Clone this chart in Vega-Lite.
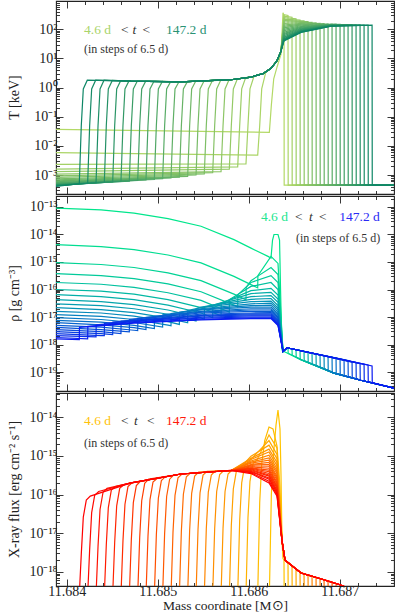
{
"$schema":"https://vega.github.io/schema/vega-lite/v6.json",
"background":"white",
"padding":{"left":6,"top":0,"right":1,"bottom":0},
"spacing":0,
"resolve":{"scale":{"color":"independent"}},
"config":{"font":"Liberation Serif","view":{"stroke":"#222222","strokeWidth":1.1},
"axis":{"domain":false,"grid":false,"tickColor":"#222222","tickWidth":0.9,"labelFont":"Liberation Serif","labelFontSize":14,"labelColor":"#222222","titleFont":"Liberation Serif","titleFontSize":14,"titleFontWeight":"normal","titleColor":"#222222","labelOverlap":false,"labelFlush":false,"labelBound":false}},
"datasets":{
"T":[
{"t":4.6,"x":11.683882,"y":0.037},{"t":4.6,"x":11.686227,"y":0.029},{"t":4.6,"x":11.686249,"y":0.25},{"t":4.6,"x":11.686275,"y":2},{"t":4.6,"x":11.686311,"y":5},{"t":4.6,"x":11.686355,"y":14},{"t":4.6,"x":11.686377,"y":372},{"t":4.6,"x":11.686388,"y":300},{"t":4.6,"x":11.68639,"y":0.00045},{"t":4.6,"x":11.687619,"y":0.00045},
{"t":11.1,"x":11.683882,"y":0.0059},{"t":11.1,"x":11.686099,"y":0.0048},{"t":11.1,"x":11.686121,"y":0.05},{"t":11.1,"x":11.686143,"y":0.9},{"t":11.1,"x":11.686187,"y":3.3},{"t":11.1,"x":11.686245,"y":4.6},{"t":11.1,"x":11.686311,"y":8.3},{"t":11.1,"x":11.686355,"y":17.8},{"t":11.1,"x":11.686388,"y":316},{"t":11.1,"x":11.686432,"y":299},{"t":11.1,"x":11.686434,"y":0.00045},{"t":11.1,"x":11.687619,"y":0.00045},
{"t":17.6,"x":11.683882,"y":0.0023},{"t":17.6,"x":11.68597,"y":0.0024},{"t":17.6,"x":11.685992,"y":0.05},{"t":17.6,"x":11.686014,"y":0.9},{"t":17.6,"x":11.686058,"y":2.45},{"t":17.6,"x":11.686157,"y":3},{"t":17.6,"x":11.686245,"y":4.6},{"t":17.6,"x":11.686311,"y":8.3},{"t":17.6,"x":11.686355,"y":17.8},{"t":17.6,"x":11.686388,"y":282},{"t":17.6,"x":11.686476,"y":259},{"t":17.6,"x":11.686478,"y":0.00045},{"t":17.6,"x":11.687619,"y":0.00045},
{"t":24.0,"x":11.683882,"y":0.0016},{"t":24.0,"x":11.685879,"y":0.0019},{"t":24.0,"x":11.685901,"y":0.05},{"t":24.0,"x":11.685923,"y":0.9},{"t":24.0,"x":11.685967,"y":2.2},{"t":24.0,"x":11.686025,"y":2.3},{"t":24.0,"x":11.686157,"y":3},{"t":24.0,"x":11.686245,"y":4.6},{"t":24.0,"x":11.686311,"y":8.3},{"t":24.0,"x":11.686355,"y":17.8},{"t":24.0,"x":11.686388,"y":251},{"t":24.0,"x":11.68652,"y":230},{"t":24.0,"x":11.686522,"y":0.00045},{"t":24.0,"x":11.687619,"y":0.00045},
{"t":30.5,"x":11.683882,"y":0.0013},{"t":30.5,"x":11.685787,"y":0.0016},{"t":30.5,"x":11.685809,"y":0.05},{"t":30.5,"x":11.685831,"y":0.9},{"t":30.5,"x":11.685875,"y":1.97},{"t":30.5,"x":11.686025,"y":2.3},{"t":30.5,"x":11.686157,"y":3},{"t":30.5,"x":11.686245,"y":4.6},{"t":30.5,"x":11.686311,"y":8.3},{"t":30.5,"x":11.686355,"y":17.8},{"t":30.5,"x":11.686388,"y":224},{"t":30.5,"x":11.686564,"y":209},{"t":30.5,"x":11.686566,"y":0.00045},{"t":30.5,"x":11.687619,"y":0.00045},
{"t":37.0,"x":11.683882,"y":0.00107},{"t":37.0,"x":11.685696,"y":0.0013},{"t":37.0,"x":11.685718,"y":0.05},{"t":37.0,"x":11.68574,"y":0.9},{"t":37.0,"x":11.685784,"y":1.84},{"t":37.0,"x":11.685806,"y":1.86},{"t":37.0,"x":11.686025,"y":2.3},{"t":37.0,"x":11.686157,"y":3},{"t":37.0,"x":11.686245,"y":4.6},{"t":37.0,"x":11.686311,"y":8.3},{"t":37.0,"x":11.686355,"y":17.8},{"t":37.0,"x":11.686388,"y":200},{"t":37.0,"x":11.686575,"y":195},{"t":37.0,"x":11.686608,"y":194},{"t":37.0,"x":11.68661,"y":0.00045},{"t":37.0,"x":11.687619,"y":0.00045},
{"t":43.5,"x":11.683882,"y":0.00093},{"t":43.5,"x":11.685604,"y":0.0012},{"t":43.5,"x":11.685626,"y":0.05},{"t":43.5,"x":11.685648,"y":0.9},{"t":43.5,"x":11.685692,"y":1.78},{"t":43.5,"x":11.685806,"y":1.86},{"t":43.5,"x":11.686025,"y":2.3},{"t":43.5,"x":11.686157,"y":3},{"t":43.5,"x":11.686245,"y":4.6},{"t":43.5,"x":11.686311,"y":8.3},{"t":43.5,"x":11.686355,"y":17.8},{"t":43.5,"x":11.686388,"y":178},{"t":43.5,"x":11.686575,"y":183},{"t":43.5,"x":11.686652,"y":183},{"t":43.5,"x":11.686654,"y":0.00045},{"t":43.5,"x":11.687619,"y":0.00045},
{"t":49.9,"x":11.683882,"y":0.00083},{"t":49.9,"x":11.685512,"y":0.0011},{"t":49.9,"x":11.685534,"y":0.05},{"t":49.9,"x":11.685556,"y":0.9},{"t":49.9,"x":11.6856,"y":1.72},{"t":49.9,"x":11.685806,"y":1.86},{"t":49.9,"x":11.686025,"y":2.3},{"t":49.9,"x":11.686157,"y":3},{"t":49.9,"x":11.686245,"y":4.6},{"t":49.9,"x":11.686311,"y":8.3},{"t":49.9,"x":11.686355,"y":17.8},{"t":49.9,"x":11.686388,"y":158},{"t":49.9,"x":11.686575,"y":171},{"t":49.9,"x":11.686696,"y":174},{"t":49.9,"x":11.686698,"y":0.00045},{"t":49.9,"x":11.687619,"y":0.00045},
{"t":56.4,"x":11.683882,"y":0.00074},{"t":56.4,"x":11.685421,"y":0.001},{"t":56.4,"x":11.685443,"y":0.05},{"t":56.4,"x":11.685465,"y":0.9},{"t":56.4,"x":11.685509,"y":1.68},{"t":56.4,"x":11.685806,"y":1.86},{"t":56.4,"x":11.686025,"y":2.3},{"t":56.4,"x":11.686157,"y":3},{"t":56.4,"x":11.686245,"y":4.6},{"t":56.4,"x":11.686311,"y":8.3},{"t":56.4,"x":11.686355,"y":17.8},{"t":56.4,"x":11.686388,"y":141},{"t":56.4,"x":11.686575,"y":160},{"t":56.4,"x":11.68674,"y":167},{"t":56.4,"x":11.686742,"y":0.00045},{"t":56.4,"x":11.687619,"y":0.00045},
{"t":62.9,"x":11.683882,"y":0.00068},{"t":62.9,"x":11.685329,"y":0.0009},{"t":62.9,"x":11.685351,"y":0.05},{"t":62.9,"x":11.685373,"y":0.9},{"t":62.9,"x":11.685417,"y":1.65},{"t":62.9,"x":11.685806,"y":1.86},{"t":62.9,"x":11.686025,"y":2.3},{"t":62.9,"x":11.686157,"y":3},{"t":62.9,"x":11.686245,"y":4.6},{"t":62.9,"x":11.686311,"y":8.3},{"t":62.9,"x":11.686355,"y":17.8},{"t":62.9,"x":11.686388,"y":126},{"t":62.9,"x":11.686575,"y":150},{"t":62.9,"x":11.686784,"y":161},{"t":62.9,"x":11.686786,"y":0.00045},{"t":62.9,"x":11.687619,"y":0.00045},
{"t":69.4,"x":11.683882,"y":0.00063},{"t":69.4,"x":11.685238,"y":0.00085},{"t":69.4,"x":11.68526,"y":0.05},{"t":69.4,"x":11.685282,"y":0.9},{"t":69.4,"x":11.685326,"y":1.6},{"t":69.4,"x":11.685806,"y":1.86},{"t":69.4,"x":11.686025,"y":2.3},{"t":69.4,"x":11.686157,"y":3},{"t":69.4,"x":11.686245,"y":4.6},{"t":69.4,"x":11.686311,"y":8.3},{"t":69.4,"x":11.686355,"y":17.8},{"t":69.4,"x":11.686388,"y":112},{"t":69.4,"x":11.686575,"y":141},{"t":69.4,"x":11.686828,"y":157},{"t":69.4,"x":11.68683,"y":0.00045},{"t":69.4,"x":11.687619,"y":0.00045},
{"t":75.9,"x":11.683882,"y":0.00059},{"t":75.9,"x":11.685146,"y":0.0008},{"t":75.9,"x":11.685168,"y":0.05},{"t":75.9,"x":11.68519,"y":0.9},{"t":75.9,"x":11.685234,"y":1.58},{"t":75.9,"x":11.685256,"y":1.58},{"t":75.9,"x":11.685806,"y":1.86},{"t":75.9,"x":11.686025,"y":2.3},{"t":75.9,"x":11.686157,"y":3},{"t":75.9,"x":11.686245,"y":4.6},{"t":75.9,"x":11.686311,"y":8.3},{"t":75.9,"x":11.686355,"y":17.8},{"t":75.9,"x":11.686388,"y":100},{"t":75.9,"x":11.686575,"y":132},{"t":75.9,"x":11.686872,"y":154},{"t":75.9,"x":11.686874,"y":0.00045},{"t":75.9,"x":11.687619,"y":0.00045},
{"t":82.4,"x":11.683882,"y":0.00056},{"t":82.4,"x":11.685054,"y":0.00075},{"t":82.4,"x":11.685076,"y":0.05},{"t":82.4,"x":11.685098,"y":0.9},{"t":82.4,"x":11.685142,"y":1.6},{"t":82.4,"x":11.685256,"y":1.58},{"t":82.4,"x":11.685806,"y":1.86},{"t":82.4,"x":11.686025,"y":2.3},{"t":82.4,"x":11.686157,"y":3},{"t":82.4,"x":11.686245,"y":4.6},{"t":82.4,"x":11.686311,"y":8.3},{"t":82.4,"x":11.686355,"y":17.8},{"t":82.4,"x":11.686388,"y":89},{"t":82.4,"x":11.686575,"y":123},{"t":82.4,"x":11.686916,"y":151},{"t":82.4,"x":11.686918,"y":0.00045},{"t":82.4,"x":11.687619,"y":0.00045},
{"t":88.8,"x":11.683882,"y":0.00054},{"t":88.8,"x":11.684963,"y":0.0007},{"t":88.8,"x":11.684985,"y":0.05},{"t":88.8,"x":11.685007,"y":0.9},{"t":88.8,"x":11.685051,"y":1.62},{"t":88.8,"x":11.685256,"y":1.58},{"t":88.8,"x":11.685806,"y":1.86},{"t":88.8,"x":11.686025,"y":2.3},{"t":88.8,"x":11.686157,"y":3},{"t":88.8,"x":11.686245,"y":4.6},{"t":88.8,"x":11.686311,"y":8.3},{"t":88.8,"x":11.686355,"y":17.8},{"t":88.8,"x":11.686388,"y":79},{"t":88.8,"x":11.686575,"y":116},{"t":88.8,"x":11.686905,"y":147},{"t":88.8,"x":11.68696,"y":149},{"t":88.8,"x":11.686962,"y":0.00045},{"t":88.8,"x":11.687619,"y":0.00045},
{"t":95.3,"x":11.683882,"y":0.00051},{"t":95.3,"x":11.684871,"y":0.00068},{"t":95.3,"x":11.684893,"y":0.05},{"t":95.3,"x":11.684915,"y":0.9},{"t":95.3,"x":11.684959,"y":1.64},{"t":95.3,"x":11.685256,"y":1.58},{"t":95.3,"x":11.685806,"y":1.86},{"t":95.3,"x":11.686025,"y":2.3},{"t":95.3,"x":11.686157,"y":3},{"t":95.3,"x":11.686245,"y":4.6},{"t":95.3,"x":11.686311,"y":8.3},{"t":95.3,"x":11.686355,"y":17.8},{"t":95.3,"x":11.686388,"y":72},{"t":95.3,"x":11.686575,"y":110},{"t":95.3,"x":11.686905,"y":144},{"t":95.3,"x":11.687004,"y":147},{"t":95.3,"x":11.687006,"y":0.00045},{"t":95.3,"x":11.687619,"y":0.00045},
{"t":101.8,"x":11.683882,"y":0.00049},{"t":101.8,"x":11.68478,"y":0.00065},{"t":101.8,"x":11.684802,"y":0.05},{"t":101.8,"x":11.684824,"y":0.9},{"t":101.8,"x":11.684868,"y":1.66},{"t":101.8,"x":11.685256,"y":1.58},{"t":101.8,"x":11.685806,"y":1.86},{"t":101.8,"x":11.686025,"y":2.3},{"t":101.8,"x":11.686157,"y":3},{"t":101.8,"x":11.686245,"y":4.6},{"t":101.8,"x":11.686311,"y":8.3},{"t":101.8,"x":11.686355,"y":17.8},{"t":101.8,"x":11.686388,"y":66},{"t":101.8,"x":11.686575,"y":104},{"t":101.8,"x":11.686905,"y":142},{"t":101.8,"x":11.687048,"y":146},{"t":101.8,"x":11.68705,"y":0.00045},{"t":101.8,"x":11.687619,"y":0.00045},
{"t":108.3,"x":11.683882,"y":0.00047},{"t":108.3,"x":11.684688,"y":0.00062},{"t":108.3,"x":11.68471,"y":0.05},{"t":108.3,"x":11.684732,"y":0.9},{"t":108.3,"x":11.684776,"y":1.68},{"t":108.3,"x":11.685256,"y":1.58},{"t":108.3,"x":11.685806,"y":1.86},{"t":108.3,"x":11.686025,"y":2.3},{"t":108.3,"x":11.686157,"y":3},{"t":108.3,"x":11.686245,"y":4.6},{"t":108.3,"x":11.686311,"y":8.3},{"t":108.3,"x":11.686355,"y":17.8},{"t":108.3,"x":11.686388,"y":60},{"t":108.3,"x":11.686575,"y":99},{"t":108.3,"x":11.686905,"y":139},{"t":108.3,"x":11.687092,"y":145},{"t":108.3,"x":11.687094,"y":0.00045},{"t":108.3,"x":11.687619,"y":0.00045},
{"t":114.8,"x":11.683882,"y":0.00046},{"t":114.8,"x":11.684596,"y":0.0006},{"t":114.8,"x":11.684618,"y":0.05},{"t":114.8,"x":11.68464,"y":0.9},{"t":114.8,"x":11.684684,"y":1.7},{"t":114.8,"x":11.684707,"y":1.66},{"t":114.8,"x":11.685256,"y":1.58},{"t":114.8,"x":11.685806,"y":1.86},{"t":114.8,"x":11.686025,"y":2.3},{"t":114.8,"x":11.686157,"y":3},{"t":114.8,"x":11.686245,"y":4.6},{"t":114.8,"x":11.686311,"y":8.3},{"t":114.8,"x":11.686355,"y":17.8},{"t":114.8,"x":11.686388,"y":55},{"t":114.8,"x":11.686575,"y":94},{"t":114.8,"x":11.686905,"y":136},{"t":114.8,"x":11.687136,"y":144},{"t":114.8,"x":11.687138,"y":0.00045},{"t":114.8,"x":11.687619,"y":0.00045},
{"t":121.2,"x":11.683882,"y":0.00045},{"t":121.2,"x":11.684505,"y":0.00058},{"t":121.2,"x":11.684527,"y":0.05},{"t":121.2,"x":11.684549,"y":0.9},{"t":121.2,"x":11.684593,"y":1.73},{"t":121.2,"x":11.684707,"y":1.66},{"t":121.2,"x":11.685256,"y":1.58},{"t":121.2,"x":11.685806,"y":1.86},{"t":121.2,"x":11.686025,"y":2.3},{"t":121.2,"x":11.686157,"y":3},{"t":121.2,"x":11.686245,"y":4.6},{"t":121.2,"x":11.686311,"y":8.3},{"t":121.2,"x":11.686355,"y":17.8},{"t":121.2,"x":11.686388,"y":51},{"t":121.2,"x":11.686575,"y":90},{"t":121.2,"x":11.686905,"y":134},{"t":121.2,"x":11.68718,"y":142},{"t":121.2,"x":11.687182,"y":0.00045},{"t":121.2,"x":11.687619,"y":0.00045},
{"t":127.7,"x":11.683882,"y":0.00044},{"t":127.7,"x":11.684413,"y":0.00056},{"t":127.7,"x":11.684435,"y":0.05},{"t":127.7,"x":11.684457,"y":0.9},{"t":127.7,"x":11.684501,"y":1.76},{"t":127.7,"x":11.684707,"y":1.66},{"t":127.7,"x":11.685256,"y":1.58},{"t":127.7,"x":11.685806,"y":1.86},{"t":127.7,"x":11.686025,"y":2.3},{"t":127.7,"x":11.686157,"y":3},{"t":127.7,"x":11.686245,"y":4.6},{"t":127.7,"x":11.686311,"y":8.3},{"t":127.7,"x":11.686355,"y":17.8},{"t":127.7,"x":11.686388,"y":48},{"t":127.7,"x":11.686575,"y":86},{"t":127.7,"x":11.686905,"y":132},{"t":127.7,"x":11.687224,"y":141},{"t":127.7,"x":11.687226,"y":0.00045},{"t":127.7,"x":11.687619,"y":0.00045},
{"t":134.2,"x":11.683882,"y":0.00043},{"t":134.2,"x":11.684322,"y":0.00054},{"t":134.2,"x":11.684344,"y":0.05},{"t":134.2,"x":11.684366,"y":0.9},{"t":134.2,"x":11.68441,"y":1.8},{"t":134.2,"x":11.684707,"y":1.66},{"t":134.2,"x":11.685256,"y":1.58},{"t":134.2,"x":11.685806,"y":1.86},{"t":134.2,"x":11.686025,"y":2.3},{"t":134.2,"x":11.686157,"y":3},{"t":134.2,"x":11.686245,"y":4.6},{"t":134.2,"x":11.686311,"y":8.3},{"t":134.2,"x":11.686355,"y":17.8},{"t":134.2,"x":11.686388,"y":45},{"t":134.2,"x":11.686575,"y":83},{"t":134.2,"x":11.686905,"y":130},{"t":134.2,"x":11.687268,"y":140},{"t":134.2,"x":11.68727,"y":0.00045},{"t":134.2,"x":11.687619,"y":0.00045},
{"t":140.7,"x":11.683882,"y":0.00042},{"t":140.7,"x":11.68423,"y":0.00052},{"t":140.7,"x":11.684252,"y":0.05},{"t":140.7,"x":11.684274,"y":0.9},{"t":140.7,"x":11.684318,"y":1.8},{"t":140.7,"x":11.684707,"y":1.66},{"t":140.7,"x":11.685256,"y":1.58},{"t":140.7,"x":11.685806,"y":1.86},{"t":140.7,"x":11.686025,"y":2.3},{"t":140.7,"x":11.686157,"y":3},{"t":140.7,"x":11.686245,"y":4.6},{"t":140.7,"x":11.686311,"y":8.3},{"t":140.7,"x":11.686355,"y":17.8},{"t":140.7,"x":11.686388,"y":42},{"t":140.7,"x":11.686575,"y":80},{"t":140.7,"x":11.686905,"y":129},{"t":140.7,"x":11.687312,"y":139},{"t":140.7,"x":11.687314,"y":0.00045},{"t":140.7,"x":11.687619,"y":0.00045},
{"t":147.2,"x":11.683882,"y":0.00041},{"t":147.2,"x":11.684138,"y":0.0005},{"t":147.2,"x":11.68416,"y":0.05},{"t":147.2,"x":11.684182,"y":0.9},{"t":147.2,"x":11.684226,"y":1.8},{"t":147.2,"x":11.684707,"y":1.66},{"t":147.2,"x":11.685256,"y":1.58},{"t":147.2,"x":11.685806,"y":1.86},{"t":147.2,"x":11.686025,"y":2.3},{"t":147.2,"x":11.686157,"y":3},{"t":147.2,"x":11.686245,"y":4.6},{"t":147.2,"x":11.686311,"y":8.3},{"t":147.2,"x":11.686355,"y":17.8},{"t":147.2,"x":11.686388,"y":40},{"t":147.2,"x":11.686575,"y":78},{"t":147.2,"x":11.686905,"y":127},{"t":147.2,"x":11.687356,"y":138},{"t":147.2,"x":11.687358,"y":0.00045},{"t":147.2,"x":11.687619,"y":0.00045}
],
"R":[
{"t":4.6,"x":11.683882,"y":9.1e-14},{"t":4.6,"x":11.684377,"y":7.8e-14},{"t":4.6,"x":11.68474,"y":6.0e-14},{"t":4.6,"x":11.685113,"y":3.8e-14},{"t":4.6,"x":11.685476,"y":2.0e-14},{"t":4.6,"x":11.685838,"y":6.5e-15},{"t":4.6,"x":11.686025,"y":3.2e-15},{"t":4.6,"x":11.686212,"y":1.6e-15},{"t":4.6,"x":11.686245,"y":1.4e-15},{"t":4.6,"x":11.686262,"y":6.3e-15},{"t":4.6,"x":11.686278,"y":1.0e-14},{"t":4.6,"x":11.686322,"y":1.0e-14},{"t":4.6,"x":11.686339,"y":6.3e-15},{"t":4.6,"x":11.68635,"y":1.0e-16},{"t":4.6,"x":11.686366,"y":6.3e-19},{"t":4.6,"x":11.686388,"y":5.6e-19},{"t":4.6,"x":11.686575,"y":2.8e-19},{"t":4.6,"x":11.686938,"y":9.1e-20},{"t":4.6,"x":11.687234,"y":5.0e-20},{"t":4.6,"x":11.687619,"y":2.5e-20},
{"t":11.1,"x":11.683882,"y":4.3e-15},{"t":11.1,"x":11.684377,"y":3.6e-15},{"t":11.1,"x":11.68474,"y":2.8e-15},{"t":11.1,"x":11.685113,"y":1.8e-15},{"t":11.1,"x":11.685476,"y":9.3e-16},{"t":11.1,"x":11.685838,"y":3.0e-16},{"t":11.1,"x":11.686025,"y":1.5e-16},{"t":11.1,"x":11.686099,"y":1.15e-16},{"t":11.1,"x":11.686101,"y":3.2e-16},{"t":11.1,"x":11.686245,"y":1.6e-15},{"t":11.1,"x":11.686322,"y":8.9e-16},{"t":11.1,"x":11.686377,"y":5.6e-19},{"t":11.1,"x":11.686421,"y":7.6e-19},{"t":11.1,"x":11.686432,"y":7.4e-19},{"t":11.1,"x":11.686434,"y":4.8e-19},{"t":11.1,"x":11.686575,"y":2.8e-19},{"t":11.1,"x":11.686938,"y":9.1e-20},{"t":11.1,"x":11.687234,"y":5.0e-20},{"t":11.1,"x":11.687619,"y":2.5e-20},
{"t":17.6,"x":11.683882,"y":9.5e-16},{"t":17.6,"x":11.684377,"y":8.1e-16},{"t":17.6,"x":11.68474,"y":6.3e-16},{"t":17.6,"x":11.685113,"y":4.0e-16},{"t":17.6,"x":11.685476,"y":2.1e-16},{"t":17.6,"x":11.685838,"y":6.8e-17},{"t":17.6,"x":11.68597,"y":4.2e-17},{"t":17.6,"x":11.685972,"y":1.2e-16},{"t":17.6,"x":11.686025,"y":2.1e-16},{"t":17.6,"x":11.686245,"y":6.3e-16},{"t":17.6,"x":11.686322,"y":3.5e-16},{"t":17.6,"x":11.686377,"y":5.6e-19},{"t":17.6,"x":11.686421,"y":7.6e-19},{"t":17.6,"x":11.686476,"y":6.9e-19},{"t":17.6,"x":11.686478,"y":4.1e-19},{"t":17.6,"x":11.686575,"y":2.8e-19},{"t":17.6,"x":11.686938,"y":9.1e-20},{"t":17.6,"x":11.687234,"y":5.0e-20},{"t":17.6,"x":11.687619,"y":2.5e-20},
{"t":24.0,"x":11.683882,"y":3.8e-16},{"t":24.0,"x":11.684377,"y":3.2e-16},{"t":24.0,"x":11.68474,"y":2.5e-16},{"t":24.0,"x":11.685113,"y":1.6e-16},{"t":24.0,"x":11.685476,"y":8.3e-17},{"t":24.0,"x":11.685838,"y":2.7e-17},{"t":24.0,"x":11.685879,"y":2.3e-17},{"t":24.0,"x":11.685881,"y":6.5e-17},{"t":24.0,"x":11.686025,"y":1.8e-16},{"t":24.0,"x":11.686245,"y":3.2e-16},{"t":24.0,"x":11.686322,"y":1.8e-16},{"t":24.0,"x":11.686377,"y":5.6e-19},{"t":24.0,"x":11.686421,"y":7.6e-19},{"t":24.0,"x":11.68652,"y":6.5e-19},{"t":24.0,"x":11.686522,"y":3.5e-19},{"t":24.0,"x":11.686575,"y":2.8e-19},{"t":24.0,"x":11.686938,"y":9.1e-20},{"t":24.0,"x":11.687234,"y":5.0e-20},{"t":24.0,"x":11.687619,"y":2.5e-20},
{"t":30.5,"x":11.683882,"y":1.8e-16},{"t":30.5,"x":11.684377,"y":1.55e-16},{"t":30.5,"x":11.68474,"y":1.2e-16},{"t":30.5,"x":11.685113,"y":7.6e-17},{"t":30.5,"x":11.685476,"y":4.0e-17},{"t":30.5,"x":11.685787,"y":1.5e-17},{"t":30.5,"x":11.685789,"y":4.3e-17},{"t":30.5,"x":11.686025,"y":1.3e-16},{"t":30.5,"x":11.686245,"y":1.8e-16},{"t":30.5,"x":11.686322,"y":1.0e-16},{"t":30.5,"x":11.686377,"y":5.6e-19},{"t":30.5,"x":11.686421,"y":7.6e-19},{"t":30.5,"x":11.686564,"y":6.0e-19},{"t":30.5,"x":11.686566,"y":3.0e-19},{"t":30.5,"x":11.686575,"y":2.8e-19},{"t":30.5,"x":11.686938,"y":9.1e-20},{"t":30.5,"x":11.687234,"y":5.0e-20},{"t":30.5,"x":11.687619,"y":2.5e-20},
{"t":37.0,"x":11.683882,"y":1.0e-16},{"t":37.0,"x":11.684377,"y":8.7e-17},{"t":37.0,"x":11.68474,"y":6.8e-17},{"t":37.0,"x":11.685113,"y":4.3e-17},{"t":37.0,"x":11.685476,"y":2.2e-17},{"t":37.0,"x":11.685696,"y":1.1e-17},{"t":37.0,"x":11.685698,"y":3.2e-17},{"t":37.0,"x":11.686025,"y":9.1e-17},{"t":37.0,"x":11.686245,"y":1.1e-16},{"t":37.0,"x":11.686322,"y":6.3e-17},{"t":37.0,"x":11.686377,"y":5.6e-19},{"t":37.0,"x":11.686421,"y":7.6e-19},{"t":37.0,"x":11.686608,"y":5.6e-19},{"t":37.0,"x":11.68661,"y":2.6e-19},{"t":37.0,"x":11.686938,"y":9.1e-20},{"t":37.0,"x":11.687234,"y":5.0e-20},{"t":37.0,"x":11.687619,"y":2.5e-20},
{"t":43.5,"x":11.683882,"y":6.5e-17},{"t":43.5,"x":11.684377,"y":5.5e-17},{"t":43.5,"x":11.68474,"y":4.3e-17},{"t":43.5,"x":11.685113,"y":2.7e-17},{"t":43.5,"x":11.685476,"y":1.4e-17},{"t":43.5,"x":11.685604,"y":9.5e-18},{"t":43.5,"x":11.685606,"y":2.7e-17},{"t":43.5,"x":11.686025,"y":7.1e-17},{"t":43.5,"x":11.686245,"y":7.9e-17},{"t":43.5,"x":11.686322,"y":4.5e-17},{"t":43.5,"x":11.686377,"y":5.6e-19},{"t":43.5,"x":11.686421,"y":7.6e-19},{"t":43.5,"x":11.686652,"y":5.2e-19},{"t":43.5,"x":11.686654,"y":2.2e-19},{"t":43.5,"x":11.686938,"y":9.1e-20},{"t":43.5,"x":11.687234,"y":5.0e-20},{"t":43.5,"x":11.687619,"y":2.5e-20},
{"t":49.9,"x":11.683882,"y":4.3e-17},{"t":49.9,"x":11.684377,"y":3.6e-17},{"t":49.9,"x":11.68474,"y":2.8e-17},{"t":49.9,"x":11.685113,"y":1.8e-17},{"t":49.9,"x":11.685476,"y":9.3e-18},{"t":49.9,"x":11.685512,"y":8.3e-18},{"t":49.9,"x":11.685514,"y":2.3e-17},{"t":49.9,"x":11.686025,"y":5.5e-17},{"t":49.9,"x":11.686245,"y":6.0e-17},{"t":49.9,"x":11.686322,"y":3.4e-17},{"t":49.9,"x":11.686377,"y":5.6e-19},{"t":49.9,"x":11.686421,"y":7.6e-19},{"t":49.9,"x":11.686696,"y":4.9e-19},{"t":49.9,"x":11.686698,"y":1.95e-19},{"t":49.9,"x":11.686938,"y":9.1e-20},{"t":49.9,"x":11.687234,"y":5.0e-20},{"t":49.9,"x":11.687619,"y":2.5e-20},
{"t":56.4,"x":11.683882,"y":3.0e-17},{"t":56.4,"x":11.684377,"y":2.6e-17},{"t":56.4,"x":11.68474,"y":2.0e-17},{"t":56.4,"x":11.685113,"y":1.26e-17},{"t":56.4,"x":11.685421,"y":7.2e-18},{"t":56.4,"x":11.685423,"y":2.0e-17},{"t":56.4,"x":11.685476,"y":2.3e-17},{"t":56.4,"x":11.686025,"y":4.4e-17},{"t":56.4,"x":11.686245,"y":4.7e-17},{"t":56.4,"x":11.686322,"y":2.6e-17},{"t":56.4,"x":11.686377,"y":5.6e-19},{"t":56.4,"x":11.686421,"y":7.6e-19},{"t":56.4,"x":11.68674,"y":4.5e-19},{"t":56.4,"x":11.686742,"y":1.7e-19},{"t":56.4,"x":11.686938,"y":9.1e-20},{"t":56.4,"x":11.687234,"y":5.0e-20},{"t":56.4,"x":11.687619,"y":2.5e-20},
{"t":62.9,"x":11.683882,"y":2.2e-17},{"t":62.9,"x":11.684377,"y":1.86e-17},{"t":62.9,"x":11.68474,"y":1.45e-17},{"t":62.9,"x":11.685113,"y":9.1e-18},{"t":62.9,"x":11.685329,"y":6.2e-18},{"t":62.9,"x":11.685331,"y":1.74e-17},{"t":62.9,"x":11.685476,"y":2.2e-17},{"t":62.9,"x":11.686025,"y":3.6e-17},{"t":62.9,"x":11.686245,"y":3.8e-17},{"t":62.9,"x":11.686322,"y":2.1e-17},{"t":62.9,"x":11.686377,"y":5.6e-19},{"t":62.9,"x":11.686421,"y":7.6e-19},{"t":62.9,"x":11.686784,"y":4.2e-19},{"t":62.9,"x":11.686786,"y":1.5e-19},{"t":62.9,"x":11.686938,"y":9.1e-20},{"t":62.9,"x":11.687234,"y":5.0e-20},{"t":62.9,"x":11.687619,"y":2.5e-20},
{"t":69.4,"x":11.683882,"y":1.6e-17},{"t":69.4,"x":11.684377,"y":1.4e-17},{"t":69.4,"x":11.68474,"y":1.07e-17},{"t":69.4,"x":11.685113,"y":6.8e-18},{"t":69.4,"x":11.685238,"y":5.4e-18},{"t":69.4,"x":11.68524,"y":1.5e-17},{"t":69.4,"x":11.685476,"y":2.0e-17},{"t":69.4,"x":11.686025,"y":3.0e-17},{"t":69.4,"x":11.686245,"y":3.2e-17},{"t":69.4,"x":11.686322,"y":1.8e-17},{"t":69.4,"x":11.686377,"y":5.6e-19},{"t":69.4,"x":11.686421,"y":7.6e-19},{"t":69.4,"x":11.686828,"y":3.9e-19},{"t":69.4,"x":11.68683,"y":1.3e-19},{"t":69.4,"x":11.686938,"y":9.1e-20},{"t":69.4,"x":11.687234,"y":5.0e-20},{"t":69.4,"x":11.687619,"y":2.5e-20},
{"t":75.9,"x":11.683882,"y":1.23e-17},{"t":75.9,"x":11.684377,"y":1.05e-17},{"t":75.9,"x":11.68474,"y":8.1e-18},{"t":75.9,"x":11.685113,"y":5.1e-18},{"t":75.9,"x":11.685146,"y":4.8e-18},{"t":75.9,"x":11.685148,"y":1.35e-17},{"t":75.9,"x":11.685476,"y":1.9e-17},{"t":75.9,"x":11.686025,"y":2.6e-17},{"t":75.9,"x":11.686245,"y":2.7e-17},{"t":75.9,"x":11.686322,"y":1.5e-17},{"t":75.9,"x":11.686377,"y":5.6e-19},{"t":75.9,"x":11.686421,"y":7.6e-19},{"t":75.9,"x":11.686872,"y":3.6e-19},{"t":75.9,"x":11.686874,"y":1.1e-19},{"t":75.9,"x":11.686938,"y":9.1e-20},{"t":75.9,"x":11.687234,"y":5.0e-20},{"t":75.9,"x":11.687619,"y":2.5e-20},
{"t":82.4,"x":11.683882,"y":9.5e-18},{"t":82.4,"x":11.684377,"y":8.1e-18},{"t":82.4,"x":11.68474,"y":6.3e-18},{"t":82.4,"x":11.685054,"y":4.3e-18},{"t":82.4,"x":11.685056,"y":1.2e-17},{"t":82.4,"x":11.685476,"y":1.8e-17},{"t":82.4,"x":11.686025,"y":2.3e-17},{"t":82.4,"x":11.686245,"y":2.3e-17},{"t":82.4,"x":11.686322,"y":1.3e-17},{"t":82.4,"x":11.686377,"y":5.6e-19},{"t":82.4,"x":11.686421,"y":7.6e-19},{"t":82.4,"x":11.686916,"y":3.4e-19},{"t":82.4,"x":11.686918,"y":9.8e-20},{"t":82.4,"x":11.686938,"y":9.1e-20},{"t":82.4,"x":11.687234,"y":5.0e-20},{"t":82.4,"x":11.687619,"y":2.5e-20},
{"t":88.8,"x":11.683882,"y":7.6e-18},{"t":88.8,"x":11.684377,"y":6.5e-18},{"t":88.8,"x":11.68474,"y":5.0e-18},{"t":88.8,"x":11.684963,"y":3.8e-18},{"t":88.8,"x":11.684965,"y":1.07e-17},{"t":88.8,"x":11.685476,"y":1.6e-17},{"t":88.8,"x":11.686025,"y":2.0e-17},{"t":88.8,"x":11.686245,"y":2.0e-17},{"t":88.8,"x":11.686322,"y":1.15e-17},{"t":88.8,"x":11.686377,"y":5.6e-19},{"t":88.8,"x":11.686421,"y":7.6e-19},{"t":88.8,"x":11.68696,"y":3.2e-19},{"t":88.8,"x":11.686962,"y":8.7e-20},{"t":88.8,"x":11.687234,"y":5.0e-20},{"t":88.8,"x":11.687619,"y":2.5e-20},
{"t":95.3,"x":11.683882,"y":6.2e-18},{"t":95.3,"x":11.684377,"y":5.2e-18},{"t":95.3,"x":11.68474,"y":4.1e-18},{"t":95.3,"x":11.684871,"y":3.5e-18},{"t":95.3,"x":11.684873,"y":9.8e-18},{"t":95.3,"x":11.685476,"y":1.5e-17},{"t":95.3,"x":11.686025,"y":1.8e-17},{"t":95.3,"x":11.686245,"y":1.8e-17},{"t":95.3,"x":11.686322,"y":1.0e-17},{"t":95.3,"x":11.686377,"y":5.6e-19},{"t":95.3,"x":11.686421,"y":7.6e-19},{"t":95.3,"x":11.687004,"y":3.0e-19},{"t":95.3,"x":11.687006,"y":7.9e-20},{"t":95.3,"x":11.687234,"y":5.0e-20},{"t":95.3,"x":11.687619,"y":2.5e-20},
{"t":101.8,"x":11.683882,"y":5.0e-18},{"t":101.8,"x":11.684377,"y":4.3e-18},{"t":101.8,"x":11.68474,"y":3.3e-18},{"t":101.8,"x":11.68478,"y":3.2e-18},{"t":101.8,"x":11.684782,"y":8.9e-18},{"t":101.8,"x":11.685476,"y":1.4e-17},{"t":101.8,"x":11.686025,"y":1.6e-17},{"t":101.8,"x":11.686245,"y":1.6e-17},{"t":101.8,"x":11.686322,"y":9.1e-18},{"t":101.8,"x":11.686377,"y":5.6e-19},{"t":101.8,"x":11.686421,"y":7.6e-19},{"t":101.8,"x":11.687048,"y":2.8e-19},{"t":101.8,"x":11.68705,"y":7.2e-20},{"t":101.8,"x":11.687234,"y":5.0e-20},{"t":101.8,"x":11.687619,"y":2.5e-20},
{"t":108.3,"x":11.683882,"y":4.2e-18},{"t":108.3,"x":11.684377,"y":3.5e-18},{"t":108.3,"x":11.684688,"y":2.9e-18},{"t":108.3,"x":11.68469,"y":8.1e-18},{"t":108.3,"x":11.68474,"y":8.5e-18},{"t":108.3,"x":11.685476,"y":1.26e-17},{"t":108.3,"x":11.686025,"y":1.4e-17},{"t":108.3,"x":11.686245,"y":1.45e-17},{"t":108.3,"x":11.686322,"y":8.1e-18},{"t":108.3,"x":11.686377,"y":5.6e-19},{"t":108.3,"x":11.686421,"y":7.6e-19},{"t":108.3,"x":11.687092,"y":2.6e-19},{"t":108.3,"x":11.687094,"y":6.8e-20},{"t":108.3,"x":11.687234,"y":5.0e-20},{"t":108.3,"x":11.687619,"y":2.5e-20},
{"t":114.8,"x":11.683882,"y":3.5e-18},{"t":114.8,"x":11.684377,"y":2.95e-18},{"t":114.8,"x":11.684596,"y":2.5e-18},{"t":114.8,"x":11.684598,"y":7.1e-18},{"t":114.8,"x":11.68474,"y":7.8e-18},{"t":114.8,"x":11.685476,"y":1.15e-17},{"t":114.8,"x":11.686025,"y":1.3e-17},{"t":114.8,"x":11.686245,"y":1.3e-17},{"t":114.8,"x":11.686322,"y":7.4e-18},{"t":114.8,"x":11.686377,"y":5.6e-19},{"t":114.8,"x":11.686421,"y":7.6e-19},{"t":114.8,"x":11.687136,"y":2.3e-19},{"t":114.8,"x":11.687138,"y":6.2e-20},{"t":114.8,"x":11.687234,"y":5.0e-20},{"t":114.8,"x":11.687619,"y":2.5e-20},
{"t":121.2,"x":11.683882,"y":2.95e-18},{"t":121.2,"x":11.684377,"y":2.5e-18},{"t":121.2,"x":11.684505,"y":2.3e-18},{"t":121.2,"x":11.684507,"y":6.5e-18},{"t":121.2,"x":11.68474,"y":7.6e-18},{"t":121.2,"x":11.685476,"y":1.07e-17},{"t":121.2,"x":11.686025,"y":1.2e-17},{"t":121.2,"x":11.686245,"y":1.2e-17},{"t":121.2,"x":11.686322,"y":6.8e-18},{"t":121.2,"x":11.686377,"y":5.6e-19},{"t":121.2,"x":11.686421,"y":7.6e-19},{"t":121.2,"x":11.68718,"y":2.2e-19},{"t":121.2,"x":11.687182,"y":5.6e-20},{"t":121.2,"x":11.687234,"y":5.0e-20},{"t":121.2,"x":11.687619,"y":2.5e-20},
{"t":127.7,"x":11.683882,"y":2.5e-18},{"t":127.7,"x":11.684377,"y":2.1e-18},{"t":127.7,"x":11.684413,"y":2.1e-18},{"t":127.7,"x":11.684415,"y":5.9e-18},{"t":127.7,"x":11.68474,"y":7.2e-18},{"t":127.7,"x":11.685476,"y":9.8e-18},{"t":127.7,"x":11.686025,"y":1.1e-17},{"t":127.7,"x":11.686245,"y":1.1e-17},{"t":127.7,"x":11.686322,"y":6.2e-18},{"t":127.7,"x":11.686377,"y":5.6e-19},{"t":127.7,"x":11.686421,"y":7.6e-19},{"t":127.7,"x":11.687224,"y":2.0e-19},{"t":127.7,"x":11.687226,"y":5.1e-20},{"t":127.7,"x":11.687619,"y":2.5e-20},
{"t":134.2,"x":11.683882,"y":2.1e-18},{"t":134.2,"x":11.684322,"y":1.9e-18},{"t":134.2,"x":11.684324,"y":5.2e-18},{"t":134.2,"x":11.68474,"y":6.8e-18},{"t":134.2,"x":11.685476,"y":9.1e-18},{"t":134.2,"x":11.686025,"y":1.0e-17},{"t":134.2,"x":11.686245,"y":1.0e-17},{"t":134.2,"x":11.686322,"y":5.6e-18},{"t":134.2,"x":11.686377,"y":5.6e-19},{"t":134.2,"x":11.686421,"y":7.6e-19},{"t":134.2,"x":11.687268,"y":1.9e-19},{"t":134.2,"x":11.68727,"y":4.7e-20},{"t":134.2,"x":11.687619,"y":2.5e-20},
{"t":140.7,"x":11.683882,"y":1.8e-18},{"t":140.7,"x":11.68423,"y":1.6e-18},{"t":140.7,"x":11.684232,"y":4.6e-18},{"t":140.7,"x":11.68474,"y":6.3e-18},{"t":140.7,"x":11.685476,"y":8.3e-18},{"t":140.7,"x":11.686025,"y":9.3e-18},{"t":140.7,"x":11.686245,"y":9.3e-18},{"t":140.7,"x":11.686322,"y":5.2e-18},{"t":140.7,"x":11.686377,"y":5.6e-19},{"t":140.7,"x":11.686421,"y":7.6e-19},{"t":140.7,"x":11.687312,"y":1.8e-19},{"t":140.7,"x":11.687314,"y":4.4e-20},{"t":140.7,"x":11.687619,"y":2.5e-20},
{"t":147.2,"x":11.683882,"y":1.6e-18},{"t":147.2,"x":11.684138,"y":1.5e-18},{"t":147.2,"x":11.68414,"y":4.2e-18},{"t":147.2,"x":11.68474,"y":6.0e-18},{"t":147.2,"x":11.685476,"y":7.9e-18},{"t":147.2,"x":11.686025,"y":8.7e-18},{"t":147.2,"x":11.686245,"y":8.7e-18},{"t":147.2,"x":11.686322,"y":4.9e-18},{"t":147.2,"x":11.686377,"y":5.6e-19},{"t":147.2,"x":11.686421,"y":7.6e-19},{"t":147.2,"x":11.687356,"y":1.66e-19},{"t":147.2,"x":11.687358,"y":4.1e-20},{"t":147.2,"x":11.687619,"y":2.5e-20}
],
"F":[
{"t":4.6,"x":11.686227,"y":2.5e-19},{"t":4.6,"x":11.686249,"y":1.0e-16},{"t":4.6,"x":11.686271,"y":1.0e-15},{"t":4.6,"x":11.6863,"y":6.3e-15},{"t":4.6,"x":11.686322,"y":1.55e-14},{"t":4.6,"x":11.686344,"y":5.0e-15},{"t":4.6,"x":11.686355,"y":3.2e-16},{"t":4.6,"x":11.686366,"y":6.3e-18},{"t":4.6,"x":11.686377,"y":2.2e-18},{"t":4.6,"x":11.686388,"y":2.0e-18},{"t":4.6,"x":11.68639,"y":2.5e-19},
{"t":11.1,"x":11.686099,"y":2.5e-19},{"t":11.1,"x":11.686121,"y":6.3e-17},{"t":11.1,"x":11.686143,"y":6.3e-16},{"t":11.1,"x":11.686176,"y":2.5e-15},{"t":11.1,"x":11.686223,"y":5.6e-15},{"t":11.1,"x":11.686267,"y":5.0e-15},{"t":11.1,"x":11.686311,"y":1.8e-15},{"t":11.1,"x":11.686344,"y":1.6e-16},{"t":11.1,"x":11.686366,"y":6.3e-18},{"t":11.1,"x":11.686399,"y":2.0e-18},{"t":11.1,"x":11.686432,"y":1.74e-18},{"t":11.1,"x":11.686434,"y":2.5e-19},
{"t":17.6,"x":11.68597,"y":2.5e-19},{"t":17.6,"x":11.685992,"y":2.5e-17},{"t":17.6,"x":11.686014,"y":2.2e-16},{"t":17.6,"x":11.686047,"y":6.3e-16},{"t":17.6,"x":11.686091,"y":7.9e-16},{"t":17.6,"x":11.686223,"y":3.5e-15},{"t":17.6,"x":11.686311,"y":1.6e-15},{"t":17.6,"x":11.686366,"y":6.3e-18},{"t":17.6,"x":11.686399,"y":2.0e-18},{"t":17.6,"x":11.686476,"y":1.45e-18},{"t":17.6,"x":11.686478,"y":2.5e-19},
{"t":24.0,"x":11.685879,"y":2.5e-19},{"t":24.0,"x":11.685901,"y":2.2e-17},{"t":24.0,"x":11.685923,"y":2.0e-16},{"t":24.0,"x":11.685956,"y":5.6e-16},{"t":24.0,"x":11.686,"y":7.1e-16},{"t":24.0,"x":11.686223,"y":2.5e-15},{"t":24.0,"x":11.686311,"y":1.1e-15},{"t":24.0,"x":11.686366,"y":6.3e-18},{"t":24.0,"x":11.686399,"y":2.0e-18},{"t":24.0,"x":11.68652,"y":1.17e-18},{"t":24.0,"x":11.686522,"y":2.5e-19},
{"t":30.5,"x":11.685787,"y":2.5e-19},{"t":30.5,"x":11.685809,"y":1.6e-17},{"t":30.5,"x":11.685831,"y":1.4e-16},{"t":30.5,"x":11.685864,"y":4.0e-16},{"t":30.5,"x":11.685908,"y":5.0e-16},{"t":30.5,"x":11.686025,"y":9.8e-16},{"t":30.5,"x":11.686223,"y":1.9e-15},{"t":30.5,"x":11.686311,"y":8.5e-16},{"t":30.5,"x":11.686366,"y":6.3e-18},{"t":30.5,"x":11.686399,"y":2.0e-18},{"t":30.5,"x":11.686564,"y":9.8e-19},{"t":30.5,"x":11.686566,"y":2.5e-19},
{"t":37.0,"x":11.685696,"y":2.5e-19},{"t":37.0,"x":11.685718,"y":1.35e-17},{"t":37.0,"x":11.68574,"y":1.2e-16},{"t":37.0,"x":11.685773,"y":3.4e-16},{"t":37.0,"x":11.685817,"y":4.3e-16},{"t":37.0,"x":11.686025,"y":8.7e-16},{"t":37.0,"x":11.686223,"y":1.5e-15},{"t":37.0,"x":11.686311,"y":6.8e-16},{"t":37.0,"x":11.686366,"y":6.3e-18},{"t":37.0,"x":11.686399,"y":2.0e-18},{"t":37.0,"x":11.686575,"y":9.3e-19},{"t":37.0,"x":11.686608,"y":8.9e-19},{"t":37.0,"x":11.68661,"y":2.5e-19},
{"t":43.5,"x":11.685604,"y":2.5e-19},{"t":43.5,"x":11.685626,"y":1.3e-17},{"t":43.5,"x":11.685648,"y":1.2e-16},{"t":43.5,"x":11.685681,"y":3.3e-16},{"t":43.5,"x":11.685725,"y":4.2e-16},{"t":43.5,"x":11.685806,"y":4.2e-16},{"t":43.5,"x":11.686025,"y":8.1e-16},{"t":43.5,"x":11.686223,"y":1.26e-15},{"t":43.5,"x":11.686311,"y":5.6e-16},{"t":43.5,"x":11.686366,"y":6.3e-18},{"t":43.5,"x":11.686399,"y":2.0e-18},{"t":43.5,"x":11.686575,"y":9.3e-19},{"t":43.5,"x":11.686652,"y":8.3e-19},{"t":43.5,"x":11.686654,"y":2.5e-19},
{"t":49.9,"x":11.685512,"y":2.5e-19},{"t":49.9,"x":11.685534,"y":1.3e-17},{"t":49.9,"x":11.685556,"y":1.15e-16},{"t":49.9,"x":11.685589,"y":3.2e-16},{"t":49.9,"x":11.685633,"y":4.1e-16},{"t":49.9,"x":11.685806,"y":4.2e-16},{"t":49.9,"x":11.686025,"y":7.4e-16},{"t":49.9,"x":11.686223,"y":1.05e-15},{"t":49.9,"x":11.686311,"y":4.7e-16},{"t":49.9,"x":11.686366,"y":6.3e-18},{"t":49.9,"x":11.686399,"y":2.0e-18},{"t":49.9,"x":11.686575,"y":9.3e-19},{"t":49.9,"x":11.686696,"y":7.8e-19},{"t":49.9,"x":11.686698,"y":2.5e-19},
{"t":56.4,"x":11.685421,"y":2.5e-19},{"t":56.4,"x":11.685443,"y":1.26e-17},{"t":56.4,"x":11.685465,"y":1.1e-16},{"t":56.4,"x":11.685498,"y":3.2e-16},{"t":56.4,"x":11.685542,"y":4.0e-16},{"t":56.4,"x":11.685806,"y":4.2e-16},{"t":56.4,"x":11.686025,"y":6.9e-16},{"t":56.4,"x":11.686223,"y":8.9e-16},{"t":56.4,"x":11.686311,"y":4.0e-16},{"t":56.4,"x":11.686366,"y":6.3e-18},{"t":56.4,"x":11.686399,"y":2.0e-18},{"t":56.4,"x":11.686575,"y":9.3e-19},{"t":56.4,"x":11.68674,"y":7.1e-19},{"t":56.4,"x":11.686742,"y":2.5e-19},
{"t":62.9,"x":11.685329,"y":2.5e-19},{"t":62.9,"x":11.685351,"y":1.2e-17},{"t":62.9,"x":11.685373,"y":1.07e-16},{"t":62.9,"x":11.685406,"y":3.0e-16},{"t":62.9,"x":11.68545,"y":3.8e-16},{"t":62.9,"x":11.685806,"y":4.2e-16},{"t":62.9,"x":11.686025,"y":6.5e-16},{"t":62.9,"x":11.686223,"y":7.8e-16},{"t":62.9,"x":11.686311,"y":3.5e-16},{"t":62.9,"x":11.686366,"y":6.3e-18},{"t":62.9,"x":11.686399,"y":2.0e-18},{"t":62.9,"x":11.686575,"y":9.3e-19},{"t":62.9,"x":11.686762,"y":6.9e-19},{"t":62.9,"x":11.686784,"y":6.6e-19},{"t":62.9,"x":11.686786,"y":2.5e-19},
{"t":69.4,"x":11.685238,"y":2.5e-19},{"t":69.4,"x":11.68526,"y":1.15e-17},{"t":69.4,"x":11.685282,"y":1.02e-16},{"t":69.4,"x":11.685315,"y":2.9e-16},{"t":69.4,"x":11.685359,"y":3.6e-16},{"t":69.4,"x":11.685806,"y":4.2e-16},{"t":69.4,"x":11.686025,"y":6.0e-16},{"t":69.4,"x":11.686223,"y":6.8e-16},{"t":69.4,"x":11.686311,"y":3.0e-16},{"t":69.4,"x":11.686366,"y":6.3e-18},{"t":69.4,"x":11.686399,"y":2.0e-18},{"t":69.4,"x":11.686575,"y":9.3e-19},{"t":69.4,"x":11.686762,"y":6.9e-19},{"t":69.4,"x":11.686828,"y":6.2e-19},{"t":69.4,"x":11.68683,"y":2.5e-19},
{"t":75.9,"x":11.685146,"y":2.5e-19},{"t":75.9,"x":11.685168,"y":1.07e-17},{"t":75.9,"x":11.68519,"y":9.5e-17},{"t":75.9,"x":11.685223,"y":2.7e-16},{"t":75.9,"x":11.685267,"y":3.4e-16},{"t":75.9,"x":11.685806,"y":4.2e-16},{"t":75.9,"x":11.686025,"y":5.8e-16},{"t":75.9,"x":11.686223,"y":6.0e-16},{"t":75.9,"x":11.686311,"y":2.7e-16},{"t":75.9,"x":11.686366,"y":6.3e-18},{"t":75.9,"x":11.686399,"y":2.0e-18},{"t":75.9,"x":11.686575,"y":9.3e-19},{"t":75.9,"x":11.686762,"y":6.9e-19},{"t":75.9,"x":11.686872,"y":5.8e-19},{"t":75.9,"x":11.686874,"y":2.5e-19},
{"t":82.4,"x":11.685054,"y":2.5e-19},{"t":82.4,"x":11.685076,"y":1.0e-17},{"t":82.4,"x":11.685098,"y":8.9e-17},{"t":82.4,"x":11.685131,"y":2.5e-16},{"t":82.4,"x":11.685175,"y":3.2e-16},{"t":82.4,"x":11.685256,"y":3.4e-16},{"t":82.4,"x":11.685806,"y":4.2e-16},{"t":82.4,"x":11.686025,"y":5.5e-16},{"t":82.4,"x":11.686223,"y":5.4e-16},{"t":82.4,"x":11.686311,"y":2.4e-16},{"t":82.4,"x":11.686366,"y":6.3e-18},{"t":82.4,"x":11.686399,"y":2.0e-18},{"t":82.4,"x":11.686575,"y":9.3e-19},{"t":82.4,"x":11.686762,"y":6.9e-19},{"t":82.4,"x":11.686916,"y":5.4e-19},{"t":82.4,"x":11.686918,"y":2.5e-19},
{"t":88.8,"x":11.684963,"y":2.5e-19},{"t":88.8,"x":11.684985,"y":9.1e-18},{"t":88.8,"x":11.685007,"y":8.1e-17},{"t":88.8,"x":11.68504,"y":2.3e-16},{"t":88.8,"x":11.685084,"y":2.9e-16},{"t":88.8,"x":11.685256,"y":3.4e-16},{"t":88.8,"x":11.685806,"y":4.2e-16},{"t":88.8,"x":11.686025,"y":5.2e-16},{"t":88.8,"x":11.686223,"y":4.8e-16},{"t":88.8,"x":11.686311,"y":2.1e-16},{"t":88.8,"x":11.686366,"y":6.3e-18},{"t":88.8,"x":11.686399,"y":2.0e-18},{"t":88.8,"x":11.686575,"y":9.3e-19},{"t":88.8,"x":11.686762,"y":6.9e-19},{"t":88.8,"x":11.68696,"y":4.9e-19},{"t":88.8,"x":11.686962,"y":2.5e-19},
{"t":95.3,"x":11.684871,"y":2.5e-19},{"t":95.3,"x":11.684893,"y":8.3e-18},{"t":95.3,"x":11.684915,"y":7.4e-17},{"t":95.3,"x":11.684948,"y":2.1e-16},{"t":95.3,"x":11.684992,"y":2.6e-16},{"t":95.3,"x":11.685256,"y":3.4e-16},{"t":95.3,"x":11.685806,"y":4.2e-16},{"t":95.3,"x":11.686025,"y":4.9e-16},{"t":95.3,"x":11.686223,"y":4.3e-16},{"t":95.3,"x":11.686311,"y":1.9e-16},{"t":95.3,"x":11.686366,"y":6.3e-18},{"t":95.3,"x":11.686399,"y":2.0e-18},{"t":95.3,"x":11.686575,"y":9.3e-19},{"t":95.3,"x":11.686762,"y":6.9e-19},{"t":95.3,"x":11.687003,"y":4.6e-19},{"t":95.3,"x":11.687005,"y":2.5e-19},
{"t":101.8,"x":11.68478,"y":2.5e-19},{"t":101.8,"x":11.684802,"y":7.8e-18},{"t":101.8,"x":11.684824,"y":6.9e-17},{"t":101.8,"x":11.684857,"y":1.95e-16},{"t":101.8,"x":11.684901,"y":2.5e-16},{"t":101.8,"x":11.685256,"y":3.4e-16},{"t":101.8,"x":11.685806,"y":4.2e-16},{"t":101.8,"x":11.686025,"y":4.8e-16},{"t":101.8,"x":11.686223,"y":3.9e-16},{"t":101.8,"x":11.686311,"y":1.7e-16},{"t":101.8,"x":11.686366,"y":6.3e-18},{"t":101.8,"x":11.686399,"y":2.0e-18},{"t":101.8,"x":11.686575,"y":9.3e-19},{"t":101.8,"x":11.686762,"y":6.9e-19},{"t":101.8,"x":11.687003,"y":4.6e-19},{"t":101.8,"x":11.687124,"y":3.5e-19},
{"t":108.3,"x":11.684688,"y":2.5e-19},{"t":108.3,"x":11.68471,"y":6.9e-18},{"t":108.3,"x":11.684732,"y":6.2e-17},{"t":108.3,"x":11.684765,"y":1.7e-16},{"t":108.3,"x":11.684809,"y":2.2e-16},{"t":108.3,"x":11.685256,"y":3.4e-16},{"t":108.3,"x":11.685806,"y":4.2e-16},{"t":108.3,"x":11.686025,"y":4.6e-16},{"t":108.3,"x":11.686223,"y":3.5e-16},{"t":108.3,"x":11.686311,"y":1.6e-16},{"t":108.3,"x":11.686366,"y":6.3e-18},{"t":108.3,"x":11.686399,"y":2.0e-18},{"t":108.3,"x":11.686575,"y":9.3e-19},{"t":108.3,"x":11.686762,"y":6.9e-19},{"t":108.3,"x":11.687003,"y":4.6e-19},{"t":108.3,"x":11.687124,"y":3.5e-19},
{"t":114.8,"x":11.684596,"y":2.5e-19},{"t":114.8,"x":11.684618,"y":6.3e-18},{"t":114.8,"x":11.68464,"y":5.6e-17},{"t":114.8,"x":11.684673,"y":1.6e-16},{"t":114.8,"x":11.684717,"y":2.0e-16},{"t":114.8,"x":11.685256,"y":3.4e-16},{"t":114.8,"x":11.685806,"y":4.2e-16},{"t":114.8,"x":11.686025,"y":4.4e-16},{"t":114.8,"x":11.686223,"y":3.2e-16},{"t":114.8,"x":11.686311,"y":1.45e-16},{"t":114.8,"x":11.686366,"y":6.3e-18},{"t":114.8,"x":11.686399,"y":2.0e-18},{"t":114.8,"x":11.686575,"y":9.3e-19},{"t":114.8,"x":11.686762,"y":6.9e-19},{"t":114.8,"x":11.687003,"y":4.6e-19},{"t":114.8,"x":11.687124,"y":3.5e-19},
{"t":121.2,"x":11.684505,"y":2.5e-19},{"t":121.2,"x":11.684527,"y":5.8e-18},{"t":121.2,"x":11.684549,"y":5.1e-17},{"t":121.2,"x":11.684582,"y":1.45e-16},{"t":121.2,"x":11.684626,"y":1.8e-16},{"t":121.2,"x":11.684707,"y":2.0e-16},{"t":121.2,"x":11.685256,"y":3.4e-16},{"t":121.2,"x":11.685806,"y":4.2e-16},{"t":121.2,"x":11.686025,"y":4.2e-16},{"t":121.2,"x":11.686223,"y":3.0e-16},{"t":121.2,"x":11.686311,"y":1.3e-16},{"t":121.2,"x":11.686366,"y":6.3e-18},{"t":121.2,"x":11.686399,"y":2.0e-18},{"t":121.2,"x":11.686575,"y":9.3e-19},{"t":121.2,"x":11.686762,"y":6.9e-19},{"t":121.2,"x":11.687003,"y":4.6e-19},{"t":121.2,"x":11.687124,"y":3.5e-19},
{"t":127.7,"x":11.684413,"y":2.5e-19},{"t":127.7,"x":11.684435,"y":5.1e-18},{"t":127.7,"x":11.684457,"y":4.6e-17},{"t":127.7,"x":11.68449,"y":1.3e-16},{"t":127.7,"x":11.684534,"y":1.6e-16},{"t":127.7,"x":11.684707,"y":2.0e-16},{"t":127.7,"x":11.685256,"y":3.4e-16},{"t":127.7,"x":11.685806,"y":4.2e-16},{"t":127.7,"x":11.686025,"y":4.0e-16},{"t":127.7,"x":11.686223,"y":2.7e-16},{"t":127.7,"x":11.686311,"y":1.2e-16},{"t":127.7,"x":11.686366,"y":6.3e-18},{"t":127.7,"x":11.686399,"y":2.0e-18},{"t":127.7,"x":11.686575,"y":9.3e-19},{"t":127.7,"x":11.686762,"y":6.9e-19},{"t":127.7,"x":11.687003,"y":4.6e-19},{"t":127.7,"x":11.687124,"y":3.5e-19},
{"t":134.2,"x":11.684322,"y":2.5e-19},{"t":134.2,"x":11.684344,"y":4.6e-18},{"t":134.2,"x":11.684366,"y":4.1e-17},{"t":134.2,"x":11.684399,"y":1.15e-16},{"t":134.2,"x":11.684443,"y":1.45e-16},{"t":134.2,"x":11.684707,"y":2.0e-16},{"t":134.2,"x":11.685256,"y":3.4e-16},{"t":134.2,"x":11.685806,"y":4.2e-16},{"t":134.2,"x":11.686025,"y":3.9e-16},{"t":134.2,"x":11.686223,"y":2.5e-16},{"t":134.2,"x":11.686311,"y":1.1e-16},{"t":134.2,"x":11.686366,"y":6.3e-18},{"t":134.2,"x":11.686399,"y":2.0e-18},{"t":134.2,"x":11.686575,"y":9.3e-19},{"t":134.2,"x":11.686762,"y":6.9e-19},{"t":134.2,"x":11.687003,"y":4.6e-19},{"t":134.2,"x":11.687124,"y":3.5e-19},
{"t":140.7,"x":11.68423,"y":2.5e-19},{"t":140.7,"x":11.684252,"y":3.8e-18},{"t":140.7,"x":11.684274,"y":3.4e-17},{"t":140.7,"x":11.684307,"y":9.5e-17},{"t":140.7,"x":11.684351,"y":1.2e-16},{"t":140.7,"x":11.684707,"y":2.0e-16},{"t":140.7,"x":11.685256,"y":3.4e-16},{"t":140.7,"x":11.685806,"y":4.2e-16},{"t":140.7,"x":11.686025,"y":3.7e-16},{"t":140.7,"x":11.686223,"y":2.2e-16},{"t":140.7,"x":11.686311,"y":1.0e-16},{"t":140.7,"x":11.686366,"y":6.3e-18},{"t":140.7,"x":11.686399,"y":2.0e-18},{"t":140.7,"x":11.686575,"y":9.3e-19},{"t":140.7,"x":11.686762,"y":6.9e-19},{"t":140.7,"x":11.687003,"y":4.6e-19},{"t":140.7,"x":11.687124,"y":3.5e-19},
{"t":147.2,"x":11.684138,"y":2.5e-19},{"t":147.2,"x":11.68416,"y":2.9e-18},{"t":147.2,"x":11.684182,"y":2.6e-17},{"t":147.2,"x":11.684215,"y":7.2e-17},{"t":147.2,"x":11.684259,"y":9.1e-17},{"t":147.2,"x":11.684707,"y":2.0e-16},{"t":147.2,"x":11.685256,"y":3.4e-16},{"t":147.2,"x":11.685806,"y":4.2e-16},{"t":147.2,"x":11.686025,"y":3.5e-16},{"t":147.2,"x":11.686223,"y":2.0e-16},{"t":147.2,"x":11.686311,"y":9.1e-17},{"t":147.2,"x":11.686366,"y":6.3e-18},{"t":147.2,"x":11.686399,"y":2.0e-18},{"t":147.2,"x":11.686575,"y":9.3e-19},{"t":147.2,"x":11.686762,"y":6.9e-19},{"t":147.2,"x":11.687003,"y":4.6e-19},{"t":147.2,"x":11.687124,"y":3.5e-19}
]
},
"vconcat":[
{"width":338,"height":193,"data":{"values":[{"a":1}]},
"layer":[
{"data":{"name":"T"},"mark":{"type":"line","clip":true,"strokeWidth":1.2},
"encoding":{
"x":{"field":"x","type":"quantitative","scale":{"domain":[11.683882,11.687597],"nice":false,"zero":false},"axis":{"orient":"bottom","values":[11.684,11.685,11.686,11.687],"tickSize":-7,"labels":false,"title":null}},
"y":{"field":"y","type":"quantitative","scale":{"type":"log","domain":[0.000223,935],"nice":false},"axis":{"orient":"left","values":[0.001,0.01,0.1,1,10,100],"tickSize":-7,"labelPadding":6,"labelExpr":"'10' + replace(replace(replace(replace(replace(replace(replace(replace(replace(replace(replace(toString(round(log(datum.value)/LN10)),'-','⁻'),'0','⁰'),'1','¹'),'2','²'),'3','³'),'4','⁴'),'5','⁵'),'6','⁶'),'7','⁷'),'8','⁸'),'9','⁹')","title":"T [keV]","titleX":-35,"titleY":96}},
"color":{"field":"t","type":"quantitative","scale":{"domain":[4.6,147.2],"range":["#b3d966","#0d8666"],"interpolate":"rgb"},"legend":null},
"detail":{"field":"t","type":"nominal"}}},
{"mark":{"type":"point","opacity":0},"encoding":{"x":{"datum":11.685,"axis":{"orient":"bottom","values":[11.6842,11.6844,11.6846,11.6848,11.6852,11.6854,11.6856,11.6858,11.6862,11.6864,11.6866,11.6868,11.6872,11.6874],"tickSize":-3.5,"labels":false,"title":null}},"y":{"datum":1,"axis":{"orient":"left","values":[0.0003,0.0004,0.0005,0.0006,0.0007,0.0008,0.0009,0.002,0.003,0.004,0.005,0.006,0.007,0.008,0.009,0.02,0.03,0.04,0.05,0.06,0.07,0.08,0.09,0.2,0.3,0.4,0.5,0.6,0.7,0.8,0.9,2,3,4,5,6,7,8,9,20,30,40,50,60,70,80,90,200,300,400,500,600,700,800,900],"tickSize":-3.5,"labels":false,"title":null}}}},
{"mark":{"type":"point","opacity":0},"encoding":{"x":{"datum":11.685,"axis":{"orient":"top","values":[11.684,11.685,11.686,11.687],"tickSize":-7,"labels":false,"title":null}},"y":{"datum":1,"axis":{"orient":"right","values":[0.001,0.01,0.1,1,10,100],"tickSize":-7,"labels":false,"title":null}}}},
{"mark":{"type":"point","opacity":0},"encoding":{"x":{"datum":11.685,"axis":{"orient":"top","values":[11.6842,11.6844,11.6846,11.6848,11.6852,11.6854,11.6856,11.6858,11.6862,11.6864,11.6866,11.6868,11.6872,11.6874],"tickSize":-3.5,"labels":false,"title":null}},"y":{"datum":1,"axis":{"orient":"right","values":[0.0003,0.0004,0.0005,0.0006,0.0007,0.0008,0.0009,0.002,0.003,0.004,0.005,0.006,0.007,0.008,0.009,0.02,0.03,0.04,0.05,0.06,0.07,0.08,0.09,0.2,0.3,0.4,0.5,0.6,0.7,0.8,0.9,2,3,4,5,6,7,8,9,20,30,40,50,60,70,80,90,200,300,400,500,600,700,800,900],"tickSize":-3.5,"labels":false,"title":null}}}},
{"mark":{"type":"text","text":"4.6 d","color":"#a9d46a","fontSize":13.5,"align":"left","baseline":"middle"},"encoding":{"x":{"datum":11.68419,"axis":null},"y":{"datum":95,"axis":null}}},
{"mark":{"type":"text","text":"<","color":"#333333","fontSize":13.5,"align":"left","baseline":"middle"},"encoding":{"x":{"datum":11.684597,"axis":null},"y":{"datum":95,"axis":null}}},
{"mark":{"type":"text","text":"t","color":"#333333","fontSize":13.5,"fontStyle":"italic","align":"left","baseline":"middle"},"encoding":{"x":{"datum":11.684723,"axis":null},"y":{"datum":95,"axis":null}}},
{"mark":{"type":"text","text":"<","color":"#333333","fontSize":13.5,"align":"left","baseline":"middle"},"encoding":{"x":{"datum":11.684833,"axis":null},"y":{"datum":95,"axis":null}}},
{"mark":{"type":"text","text":"147.2 d","color":"#2a9274","fontSize":13.5,"align":"left","baseline":"middle"},"encoding":{"x":{"datum":11.685091,"axis":null},"y":{"datum":95,"axis":null}}},
{"mark":{"type":"text","text":"(in steps of 6.5 d)","color":"#333333","fontSize":12,"align":"left","baseline":"middle"},"encoding":{"x":{"datum":11.68419,"axis":null},"y":{"datum":20.5,"axis":null}}}
],
"resolve":{"axis":{"x":"independent","y":"independent"}}},
{"width":338,"height":195,"data":{"values":[{"a":1}]},
"layer":[
{"data":{"name":"R"},"mark":{"type":"line","clip":true,"strokeWidth":1.2},
"encoding":{
"x":{"field":"x","type":"quantitative","scale":{"domain":[11.683882,11.687597],"nice":false,"zero":false},"axis":{"orient":"bottom","values":[11.684,11.685,11.686,11.687],"tickSize":-7,"labels":false,"title":null}},
"y":{"field":"y","type":"quantitative","scale":{"type":"log","domain":[2.04e-20,2.51e-13],"nice":false},"axis":{"orient":"left","values":[1e-19,1e-18,1e-17,1e-16,1e-15,1e-14,1e-13],"tickSize":-7,"labelPadding":6,"labelExpr":"'10' + replace(replace(replace(replace(replace(replace(replace(replace(replace(replace(replace(toString(round(log(datum.value)/LN10)),'-','⁻'),'0','⁰'),'1','¹'),'2','²'),'3','³'),'4','⁴'),'5','⁵'),'6','⁶'),'7','⁷'),'8','⁸'),'9','⁹')","title":"ρ [g cm⁻³]","titleX":-35,"titleY":97}},
"color":{"field":"t","type":"quantitative","scale":{"domain":[4.6,147.2],"range":["#00e68c","#0a1af2"],"interpolate":"rgb"},"legend":null},
"detail":{"field":"t","type":"nominal"}}},
{"mark":{"type":"point","opacity":0},"encoding":{"x":{"datum":11.685,"axis":{"orient":"bottom","values":[11.6842,11.6844,11.6846,11.6848,11.6852,11.6854,11.6856,11.6858,11.6862,11.6864,11.6866,11.6868,11.6872,11.6874],"tickSize":-3.5,"labels":false,"title":null}},"y":{"datum":1e-16,"axis":{"orient":"left","values":[3e-20,4e-20,5e-20,6e-20,7e-20,8e-20,9e-20,2e-19,3e-19,4e-19,5e-19,6e-19,7e-19,8e-19,9e-19,2e-18,3e-18,4e-18,5e-18,6e-18,7e-18,8e-18,9e-18,2e-17,3e-17,4e-17,5e-17,6e-17,7e-17,8e-17,9e-17,2e-16,3e-16,4e-16,5e-16,6e-16,7e-16,8e-16,9e-16,2e-15,3e-15,4e-15,5e-15,6e-15,7e-15,8e-15,9e-15,2e-14,3e-14,4e-14,5e-14,6e-14,7e-14,8e-14,9e-14,2e-13],"tickSize":-3.5,"labels":false,"title":null}}}},
{"mark":{"type":"point","opacity":0},"encoding":{"x":{"datum":11.685,"axis":{"orient":"top","values":[11.684,11.685,11.686,11.687],"tickSize":-7,"labels":false,"title":null}},"y":{"datum":1e-16,"axis":{"orient":"right","values":[1e-19,1e-18,1e-17,1e-16,1e-15,1e-14,1e-13],"tickSize":-7,"labels":false,"title":null}}}},
{"mark":{"type":"point","opacity":0},"encoding":{"x":{"datum":11.685,"axis":{"orient":"top","values":[11.6842,11.6844,11.6846,11.6848,11.6852,11.6854,11.6856,11.6858,11.6862,11.6864,11.6866,11.6868,11.6872,11.6874],"tickSize":-3.5,"labels":false,"title":null}},"y":{"datum":1e-16,"axis":{"orient":"right","values":[3e-20,4e-20,5e-20,6e-20,7e-20,8e-20,9e-20,2e-19,3e-19,4e-19,5e-19,6e-19,7e-19,8e-19,9e-19,2e-18,3e-18,4e-18,5e-18,6e-18,7e-18,8e-18,9e-18,2e-17,3e-17,4e-17,5e-17,6e-17,7e-17,8e-17,9e-17,2e-16,3e-16,4e-16,5e-16,6e-16,7e-16,8e-16,9e-16,2e-15,3e-15,4e-15,5e-15,6e-15,7e-15,8e-15,9e-15,2e-14,3e-14,4e-14,5e-14,6e-14,7e-14,8e-14,9e-14,2e-13],"tickSize":-3.5,"labels":false,"title":null}}}},
{"mark":{"type":"text","text":"4.6 d","color":"#22e690","fontSize":13.5,"align":"left","baseline":"middle"},"encoding":{"x":{"datum":11.686135,"axis":null},"y":{"datum":4.3e-14,"axis":null}}},
{"mark":{"type":"text","text":"<","color":"#333333","fontSize":13.5,"align":"left","baseline":"middle"},"encoding":{"x":{"datum":11.686509,"axis":null},"y":{"datum":4.3e-14,"axis":null}}},
{"mark":{"type":"text","text":"t","color":"#333333","fontSize":13.5,"fontStyle":"italic","align":"left","baseline":"middle"},"encoding":{"x":{"datum":11.686663,"axis":null},"y":{"datum":4.3e-14,"axis":null}}},
{"mark":{"type":"text","text":"<","color":"#333333","fontSize":13.5,"align":"left","baseline":"middle"},"encoding":{"x":{"datum":11.686773,"axis":null},"y":{"datum":4.3e-14,"axis":null}}},
{"mark":{"type":"text","text":"147.2 d","color":"#2a2af5","fontSize":13.5,"align":"left","baseline":"middle"},"encoding":{"x":{"datum":11.686996,"axis":null},"y":{"datum":4.3e-14,"axis":null}}},
{"mark":{"type":"text","text":"(in steps of 6.5 d)","color":"#333333","fontSize":12,"align":"left","baseline":"middle"},"encoding":{"x":{"datum":11.68652,"axis":null},"y":{"datum":7.5e-15,"axis":null}}}
],
"resolve":{"axis":{"x":"independent","y":"independent"}}},
{"width":338,"height":193,"data":{"values":[{"a":1}]},
"layer":[
{"data":{"name":"F"},"mark":{"type":"line","clip":true,"strokeWidth":1.2},
"encoding":{
"x":{"field":"x","type":"quantitative","scale":{"domain":[11.683882,11.687597],"nice":false,"zero":false},"axis":{"orient":"bottom","values":[11.684,11.685,11.686,11.687],"format":".3f","tickSize":-7,"labelPadding":5,"title":"Mass coordinate [M⊙]","titlePadding":0,"titleFontSize":13.5}},
"y":{"field":"y","type":"quantitative","scale":{"type":"log","domain":[4.27e-19,4.27e-14],"nice":false},"axis":{"orient":"left","values":[1e-18,1e-17,1e-16,1e-15,1e-14],"tickSize":-7,"labelPadding":6,"labelExpr":"'10' + replace(replace(replace(replace(replace(replace(replace(replace(replace(replace(replace(toString(round(log(datum.value)/LN10)),'-','⁻'),'0','⁰'),'1','¹'),'2','²'),'3','³'),'4','⁴'),'5','⁵'),'6','⁶'),'7','⁷'),'8','⁸'),'9','⁹')","title":"X-ray flux [erg cm⁻² s⁻¹]","titleX":-35,"titleY":96}},
"color":{"field":"t","type":"quantitative","scale":{"domain":[4.6,147.2],"range":["#ffc400","#ff0000"],"interpolate":"rgb"},"legend":null},
"detail":{"field":"t","type":"nominal"}}},
{"mark":{"type":"point","opacity":0},"encoding":{"x":{"datum":11.685,"axis":{"orient":"bottom","values":[11.6842,11.6844,11.6846,11.6848,11.6852,11.6854,11.6856,11.6858,11.6862,11.6864,11.6866,11.6868,11.6872,11.6874],"tickSize":-3.5,"labels":false,"title":null}},"y":{"datum":1e-16,"axis":{"orient":"left","values":[5e-19,6e-19,7e-19,8e-19,9e-19,2e-18,3e-18,4e-18,5e-18,6e-18,7e-18,8e-18,9e-18,2e-17,3e-17,4e-17,5e-17,6e-17,7e-17,8e-17,9e-17,2e-16,3e-16,4e-16,5e-16,6e-16,7e-16,8e-16,9e-16,2e-15,3e-15,4e-15,5e-15,6e-15,7e-15,8e-15,9e-15,2e-14,3e-14,4e-14],"tickSize":-3.5,"labels":false,"title":null}}}},
{"mark":{"type":"point","opacity":0},"encoding":{"x":{"datum":11.685,"axis":{"orient":"top","values":[11.684,11.685,11.686,11.687],"tickSize":-7,"labels":false,"title":null}},"y":{"datum":1e-16,"axis":{"orient":"right","values":[1e-18,1e-17,1e-16,1e-15,1e-14],"tickSize":-7,"labels":false,"title":null}}}},
{"mark":{"type":"point","opacity":0},"encoding":{"x":{"datum":11.685,"axis":{"orient":"top","values":[11.6842,11.6844,11.6846,11.6848,11.6852,11.6854,11.6856,11.6858,11.6862,11.6864,11.6866,11.6868,11.6872,11.6874],"tickSize":-3.5,"labels":false,"title":null}},"y":{"datum":1e-16,"axis":{"orient":"right","values":[5e-19,6e-19,7e-19,8e-19,9e-19,2e-18,3e-18,4e-18,5e-18,6e-18,7e-18,8e-18,9e-18,2e-17,3e-17,4e-17,5e-17,6e-17,7e-17,8e-17,9e-17,2e-16,3e-16,4e-16,5e-16,6e-16,7e-16,8e-16,9e-16,2e-15,3e-15,4e-15,5e-15,6e-15,7e-15,8e-15,9e-15,2e-14,3e-14,4e-14],"tickSize":-3.5,"labels":false,"title":null}}}},
{"mark":{"type":"text","text":"4.6 d","color":"#ffc20a","fontSize":13.5,"align":"left","baseline":"middle"},"encoding":{"x":{"datum":11.68419,"axis":null},"y":{"datum":8.0e-15,"axis":null}}},
{"mark":{"type":"text","text":"<","color":"#333333","fontSize":13.5,"align":"left","baseline":"middle"},"encoding":{"x":{"datum":11.684597,"axis":null},"y":{"datum":8.0e-15,"axis":null}}},
{"mark":{"type":"text","text":"t","color":"#333333","fontSize":13.5,"fontStyle":"italic","align":"left","baseline":"middle"},"encoding":{"x":{"datum":11.684739,"axis":null},"y":{"datum":8.0e-15,"axis":null}}},
{"mark":{"type":"text","text":"<","color":"#333333","fontSize":13.5,"align":"left","baseline":"middle"},"encoding":{"x":{"datum":11.684882,"axis":null},"y":{"datum":8.0e-15,"axis":null}}},
{"mark":{"type":"text","text":"147.2 d","color":"#ff1a0a","fontSize":13.5,"align":"left","baseline":"middle"},"encoding":{"x":{"datum":11.685091,"axis":null},"y":{"datum":8.0e-15,"axis":null}}},
{"mark":{"type":"text","text":"(in steps of 6.5 d)","color":"#333333","fontSize":12,"align":"left","baseline":"middle"},"encoding":{"x":{"datum":11.68419,"axis":null},"y":{"datum":2.16e-15,"axis":null}}}
],
"resolve":{"axis":{"x":"independent","y":"independent"}}}
]
}
